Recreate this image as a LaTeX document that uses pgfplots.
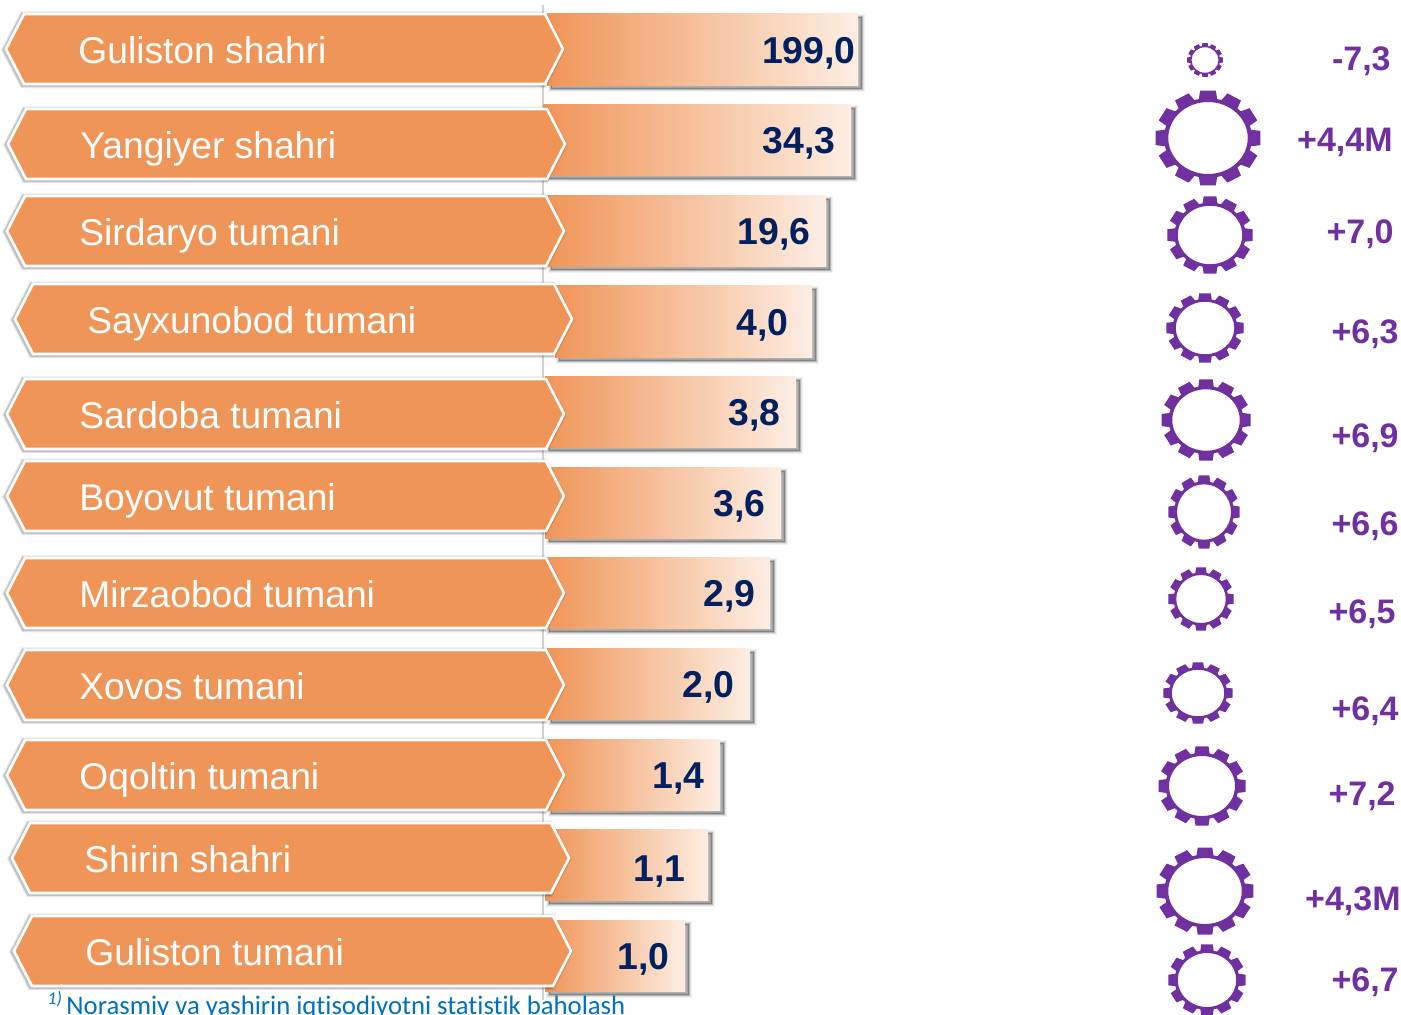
\documentclass[border=0pt]{standalone}
\usepackage{fontspec}
\setmainfont{Liberation Sans}
\newfontfamily\foot[Ligatures=NoCommon]{Carlito}
\usepackage{pgfplots}
\pgfplotsset{compat=1.18}
\definecolor{hexor}{HTML}{F09558}
\definecolor{barend}{HTML}{FDEEE3}
\definecolor{navy}{HTML}{002060}
\definecolor{gearp}{HTML}{7030A0}
\definecolor{footb}{HTML}{0070C0}
% gear outline, radius = mark size
\pgfdeclareplotmark{gear}{%
  \pgfpathmoveto{\pgfpointpolar{78}{0.83\pgfplotmarksize}}%
  \foreach \a in {90,120,...,420}{%
    \pgfmathsetmacro\aa{\a-12}\pgfmathsetmacro\ab{\a-8.5}%
    \pgfmathsetmacro\ac{\a+8.5}\pgfmathsetmacro\ad{\a+12}%
    \pgfpathlineto{\pgfpointpolar{\aa}{0.83\pgfplotmarksize}}%
    \pgfpathlineto{\pgfpointpolar{\ab}{\pgfplotmarksize}}%
    \pgfpathlineto{\pgfpointpolar{\ac}{\pgfplotmarksize}}%
    \pgfpathlineto{\pgfpointpolar{\ad}{0.83\pgfplotmarksize}}%
  }%
  \pgfpathclose
  \pgfpathcircle{\pgfpointorigin}{0.75\pgfplotmarksize}%
  \pgfseteorule
  \pgfusepathqfill
}
% x0 x1 ytop ybottom
\newcommand{\valbar}[4]{%
  \addplot[draw=black, draw opacity=0.05, line width=3.4pt, fill=black, fill opacity=0.08, xshift=2pt, yshift=-2pt] coordinates {(#1,#3) (#2,#3) (#2,#4) (#1,#4)} --cycle;
  \addplot[draw=black, draw opacity=0.07, line width=2.4pt, fill=black, fill opacity=0.08, xshift=2pt, yshift=-2pt] coordinates {(#1,#3) (#2,#3) (#2,#4) (#1,#4)} --cycle;
  \addplot[draw=black, draw opacity=0.09, line width=1.4pt, fill=black, fill opacity=0.08, xshift=2pt, yshift=-2pt] coordinates {(#1,#3) (#2,#3) (#2,#4) (#1,#4)} --cycle;
  \addplot[draw=black, draw opacity=0.11, line width=0.6pt, fill=black, fill opacity=0.08, xshift=2pt, yshift=-2pt] coordinates {(#1,#3) (#2,#3) (#2,#4) (#1,#4)} --cycle;
  \addplot[draw=none, left color=hexor, right color=barend] coordinates {(#1,#3) (#2,#3) (#2,#4) (#1,#4)} --cycle;
}
% xleft xright ytop ybottom
\newcommand{\hexa}[4]{%
  \pgfmathsetmacro\ymid{(#3+#4)/2}\pgfmathsetmacro\xa{#1+18}\pgfmathsetmacro\xb{#2-18}%
  \edef\hexcoords{(#1,\ymid) (\xa,#3) (\xb,#3) (#2,\ymid) (\xb,#4) (\xa,#4)}%
  \expandafter\hexplot\expandafter{\hexcoords}%
}
\newcommand{\hexplot}[1]{%
  \addplot[draw=black, draw opacity=0.05, line width=3.6pt, xshift=-0.6pt, yshift=-0.4pt] coordinates {#1} --cycle;
  \addplot[draw=black, draw opacity=0.08, line width=2.8pt, xshift=-0.6pt, yshift=-0.4pt] coordinates {#1} --cycle;
  \addplot[draw=black, draw opacity=0.14, line width=2pt, xshift=-0.6pt, yshift=-0.4pt] coordinates {#1} --cycle;
  \addplot[draw=white, line width=1.3pt, fill=hexor, line join=miter] coordinates {#1} --cycle;
}
% x y rx ry
\newcommand{\gear}[4]{%
  \addplot[only marks, mark=gear, mark size={#4*0.5pt}, mark options={draw=none, fill=gearp, xscale={#3/#4}}] coordinates {(#1,#2)};
}
\newcommand{\name}[3]{\node[anchor=base west, inner sep=0pt, text=white, font=\fontsize{18.6pt}{20pt}\selectfont] at (axis cs:#1-1,#2+13) {#3};}
\newcommand{\val}[3]{\node[anchor=base east, inner sep=0pt, text=navy, font=\fontsize{18.7pt}{20pt}\selectfont\bfseries] at (axis cs:#1+2,#2+13) {#3};}
\newcommand{\chg}[3]{\node[anchor=base east, inner sep=0pt, text=gearp, font=\fontsize{17pt}{19pt}\selectfont\bfseries] at (axis cs:#1+1,#2+12) {#3};}
\begin{document}
\begin{tikzpicture}
\path[use as bounding box, clip] (0,0) rectangle (700.5pt,507pt);
\begin{axis}[
  hide axis, at={(0,0)}, anchor=south west, scale only axis,
  x=0.5pt, y=0.5pt, y dir=reverse,
  xmin=0, xmax=1401, ymin=0, ymax=1014, clip=false,
]
\addplot[draw=black!18, line width=1pt] coordinates {(543,5) (543,1000)};
\valbar{547}{858}{13}{85}
\valbar{543}{851}{104}{175}
\valbar{547}{826}{195}{266}
\valbar{555}{812}{285}{357}
\valbar{545}{796}{376}{447}
\valbar{545}{781}{467}{538}
\valbar{545}{770}{557}{628}
\valbar{547}{750}{648}{719}
\valbar{547}{720}{739}{810}
\valbar{545}{708}{829}{900}
\valbar{545}{685}{920}{991}
\hexa{6}{563}{14}{84}
\hexa{8}{565}{109}{179}
\hexa{7}{564}{196}{266}
\hexa{15}{572}{284}{354}
\hexa{7}{564}{379}{449}
\hexa{7}{564}{461}{531}
\hexa{7}{564}{558}{628}
\hexa{7}{564}{650}{720}
\hexa{7}{564}{740}{810}
\hexa{12}{569}{823}{893}
\hexa{14}{571}{916}{986}
\gear{1205}{60}{18}{17}
\gear{1208}{138}{53}{48}
\gear{1210}{235}{43}{39}
\gear{1205}{328}{39}{35}
\gear{1206}{420}{45}{41}
\gear{1204}{512}{36}{37}
\gear{1201}{599}{33}{32}
\gear{1198}{693}{35}{31}
\gear{1202}{786}{44}{40}
\gear{1205}{891}{49}{44}
\gear{1207}{980}{39}{36}
\name{79}{50}{Guliston shahri}
\name{81}{145}{Yangiyer shahri}
\name{80}{232}{Sirdaryo tumani}
\name{88}{320}{Sayxunobod tumani}
\name{80}{415}{Sardoba tumani}
\name{80}{497}{Boyovut tumani}
\name{80}{594}{Mirzaobod tumani}
\name{80}{686}{Xovos tumani}
\name{80}{776}{Oqoltin tumani}
\name{85}{859}{Shirin shahri}
\name{86}{952}{Guliston tumani}
\val{854}{50}{199,0}
\val{834}{140}{34,3}
\val{809}{231}{19,6}
\val{787}{322}{4,0}
\val{779}{412}{3,8}
\val{764}{503}{3,6}
\val{754}{593}{2,9}
\val{733}{684}{2,0}
\val{703}{775}{1,4}
\val{684}{868}{1,1}
\val{668}{956}{1,0}
\chg{1390}{58}{-7,3}
\chg{1392}{139}{+4,4M}
\chg{1393}{231}{+7,0}
\chg{1398}{331}{+6,3}
\chg{1398}{435}{+6,9}
\chg{1398}{523}{+6,6}
\chg{1395}{611}{+6,5}
\chg{1398}{708}{+6,4}
\chg{1395}{793}{+7,2}
\chg{1400}{898}{+4,3M}
\chg{1398}{979}{+6,7}
\node[anchor=base west, inner sep=0pt, text=footb, font=\foot\fontsize{13.35pt}{15pt}\selectfont] at (axis cs:47,1014) {\raisebox{5pt}{\fontsize{9pt}{10pt}\selectfont\itshape 1)}\,Norasmiy va yashirin iqtisodiyotni statistik baholash};
\end{axis}
\end{tikzpicture}
\end{document}
